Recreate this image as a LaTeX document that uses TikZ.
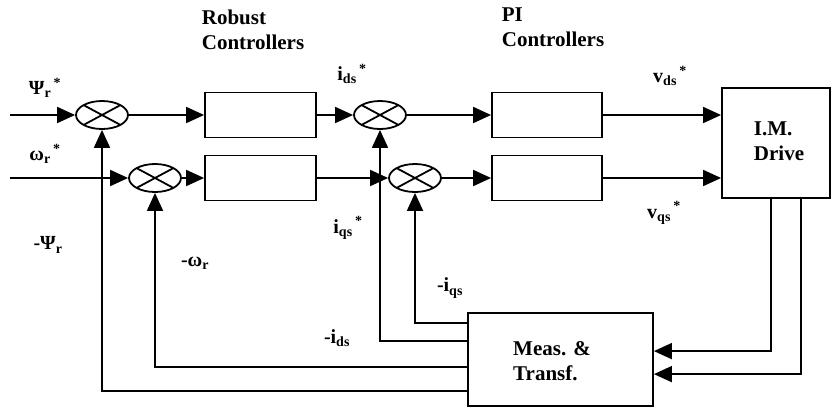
\documentclass[tikz,border=0pt]{standalone}
\usepackage{fontspec}
\setmainfont{Liberation Serif}
\usetikzlibrary{arrows.meta,shapes.geometric}
\newcommand\lb[3]{#1\textsubscript{#2}\textsuperscript{#3}}
\begin{document}
\begin{tikzpicture}[x=1pt,y=-1pt, line width=1.8pt,
  every node/.style={font=\bfseries\fontsize{20}{23}\selectfont},
  sumj/.style={ellipse, draw, minimum width=52pt, minimum height=28pt, inner sep=0pt,
    path picture={\draw[line width=1.8pt] (path picture bounding box.north west)--(path picture bounding box.south east)
      (path picture bounding box.north east)--(path picture bounding box.south west);}},
  blk/.style={draw, rectangle, inner sep=0pt},
  lbl/.style={inner sep=0pt},
  head/.style={inner sep=0pt, align=left, anchor=north west, font=\bfseries\fontsize{21}{25}\selectfont},
  arr/.style={-{Triangle[length=18pt,width=16pt]}},
]
\useasboundingbox (0,0) rectangle (833,410);
% summing junctions
\node[sumj] (s1) at (102,115) {};
\node[sumj] (s2) at (155,178) {};
\node[sumj] (s3) at (380,115) {};
\node[sumj] (s4) at (415,178) {};
% blocks
\node[blk, minimum width=111pt, minimum height=45pt] (r1) at (260.5,115) {};
\node[blk, minimum width=111pt, minimum height=45pt] (r2) at (260.5,178) {};
\node[blk, minimum width=110pt, minimum height=45pt] (p1) at (547,115) {};
\node[blk, minimum width=110pt, minimum height=45pt] (p2) at (547,178) {};
\node[blk, minimum width=108pt, minimum height=110pt] (im) at (776,143) {};
\node[lbl, align=left, font=\bfseries\fontsize{21}{25}\selectfont] (imt) at (779,141) {I.M.\\Drive};
\node[blk, minimum width=185pt, minimum height=93pt] (ms) at (560.5,359.5) {};
\node[lbl, align=left, font=\bfseries\fontsize{21}{25}\selectfont] (mst) at (552,361) {Meas. \&\\Transf.};
% inputs
\coordinate (in1) at (10,115);
\coordinate (in2) at (10,178);
% forward paths
\draw[arr] (in1) -- (s1.west);
\draw[arr] (s1.east) -- (r1.west);
\draw[arr] (r1.east) -- (s3.west);
\draw[arr] (s3.east) -- (p1.west);
\draw[arr] (p1.east) -- (p1.east -| im.west);
\draw[arr] (in2) -- (s2.west);
\draw[arr] (s2.east) -- (r2.west);
\draw[arr] (r2.east) -- (s4.west);
\draw[arr] (s4.east) -- (p2.west);
\draw[arr] (p2.east) -- (p2.east -| im.west);
% feedback paths
\draw[arr] ([yshift=-11pt]ms.north west) -| (s4.south);
\draw[arr] ([yshift=-29pt]ms.north west) -| (s3.south);
\draw[arr] ([yshift=-55pt]ms.north west) -| (s2.south);
\draw[arr] ([yshift=-79pt]ms.north west) -| (s1.south);
\draw[arr] ([xshift=50pt]im.south west) |- ([yshift=-39pt]ms.north east);
\draw[arr] ([xshift=80pt]im.south west) |- ([yshift=-62pt]ms.north east);
% labels
\node[head] (hr) at (201,9) {Robust\\Controllers};
\node[head] (hp) at (501,7) {PI\\Controllers};
\node[lbl] (l1) at (45,88) {\lb{Ψ}{r}{\,*}};
\node[lbl] (l2) at (45,154) {\lb{ω}{r}{\,*}};
\node[lbl] (l3) at (48,245) {-Ψ\textsubscript{r}};
\node[lbl] (l4) at (195,263) {-ω\textsubscript{r}};
\node[lbl] (l5) at (352,74) {\lb{i}{ds}{\,*}};
\node[lbl] (l6) at (348,228) {\lb{i}{qs}{\,*}};
\node[lbl] (l7) at (337,338) {-i\textsubscript{ds}};
\node[lbl] (l8) at (450,288) {-i\textsubscript{qs}};
\node[lbl] (l9) at (670,76) {\lb{v}{ds}{\,*}};
\node[lbl] (l10) at (664,213) {\lb{v}{qs}{\,*}};
\end{tikzpicture}
\end{document}
